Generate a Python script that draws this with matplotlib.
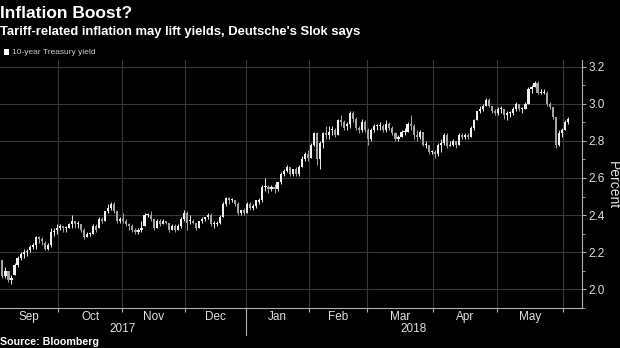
import numpy as np
import pandas as pd
import matplotlib
matplotlib.use('Agg')
import matplotlib.pyplot as plt
import matplotlib.transforms as mtransforms
from matplotlib.patches import Rectangle

# Шрифт: Liberation Sans (уже DejaVu), запасной DejaVu
plt.rcParams['font.family'] = ['Liberation Sans', 'DejaVu Sans']

# Торговые дни по месяцам
month_days = {
    '2017-09': [1, 5, 6, 7, 8, 11, 12, 13, 14, 15, 18, 19, 20, 21, 22, 25, 26, 27, 28, 29],
    '2017-10': [2, 3, 4, 5, 6, 10, 11, 12, 13, 16, 17, 18, 19, 20, 23, 24, 25, 26, 27, 30, 31],
    '2017-11': [1, 2, 3, 6, 7, 8, 9, 10, 13, 14, 15, 16, 17, 20, 21, 22, 24, 27, 28, 29, 30],
    '2017-12': [1, 4, 5, 6, 7, 8, 11, 12, 13, 14, 15, 18, 19, 20, 21, 22, 26, 27, 28, 29],
    '2018-01': [2, 3, 4, 5, 8, 9, 10, 11, 12, 16, 17, 18, 19, 22, 23, 24, 25, 26, 29, 30, 31],
    '2018-02': [1, 2, 5, 6, 7, 8, 9, 12, 13, 14, 15, 16, 20, 21, 22, 23, 26, 27, 28],
    '2018-03': [1, 2, 5, 6, 7, 8, 9, 12, 13, 14, 15, 16, 19, 20, 21, 22, 23, 26, 27, 28, 29, 30],
    '2018-04': [2, 3, 4, 5, 6, 9, 10, 11, 12, 13, 16, 17, 18, 19, 20, 23, 24, 25, 26, 27, 30],
    '2018-05': [1, 2, 3, 4, 7, 8, 9, 10, 11, 14, 15, 16, 17, 18, 21, 22, 23, 24, 25, 29, 30, 31],
    '2018-06': [1, 4],
}

# 10-year Treasury yield, OHLC
open_ = [
    2.12, 2.16, 2.07, 2.10, 2.05, 2.08, 2.13, 2.17, 2.19, 2.20, 2.21, 2.23, 2.24, 2.28, 2.27, 2.25, 2.22, 2.24, 2.31, 2.32,
    2.33, 2.34, 2.33, 2.33, 2.35, 2.37, 2.35, 2.35, 2.32, 2.28, 2.30, 2.30, 2.34, 2.33, 2.38, 2.37, 2.42, 2.44, 2.46, 2.42, 2.37,
    2.38, 2.37, 2.35, 2.34, 2.32, 2.31, 2.32, 2.34, 2.40, 2.40, 2.38, 2.33, 2.37, 2.35, 2.37, 2.36, 2.32, 2.34, 2.32, 2.34, 2.38,
    2.41, 2.37, 2.37, 2.36, 2.33, 2.37, 2.38, 2.39, 2.40, 2.35, 2.35, 2.36, 2.39, 2.46, 2.49, 2.48, 2.48, 2.46, 2.41, 2.43,
    2.41, 2.46, 2.44, 2.45, 2.47, 2.48, 2.55, 2.55, 2.54, 2.55, 2.54, 2.58, 2.62, 2.64, 2.66, 2.62, 2.65, 2.62, 2.66, 2.70, 2.73,
    2.71, 2.78, 2.84, 2.70, 2.79, 2.84, 2.83, 2.86, 2.86, 2.83, 2.91, 2.90, 2.88, 2.89, 2.95, 2.92, 2.87, 2.86, 2.90,
    2.86, 2.81, 2.86, 2.88, 2.88, 2.88, 2.86, 2.89, 2.87, 2.84, 2.81, 2.82, 2.85, 2.85, 2.89, 2.88, 2.83, 2.82, 2.85, 2.78, 2.78, 2.74,
    2.74, 2.73, 2.78, 2.79, 2.83, 2.77, 2.78, 2.80, 2.78, 2.83, 2.82, 2.83, 2.82, 2.87, 2.91, 2.96, 2.97, 2.99, 3.02, 2.99, 2.96,
    2.95, 2.97, 2.97, 2.94, 2.95, 2.95, 2.97, 3.00, 2.97, 2.97, 3.00, 3.08, 3.09, 3.11, 3.06, 3.06, 3.06, 3.00, 2.98, 2.93, 2.78, 2.84,
    2.86, 2.90,
]
high = [
    2.17, 2.16, 2.12, 2.10, 2.08, 2.14, 2.18, 2.20, 2.22, 2.22, 2.24, 2.25, 2.29, 2.29, 2.28, 2.26, 2.25, 2.33, 2.33, 2.35,
    2.35, 2.34, 2.34, 2.36, 2.40, 2.37, 2.37, 2.35, 2.33, 2.31, 2.31, 2.35, 2.35, 2.39, 2.39, 2.42, 2.46, 2.47, 2.47, 2.42, 2.39,
    2.41, 2.38, 2.36, 2.35, 2.33, 2.33, 2.37, 2.41, 2.41, 2.42, 2.38, 2.38, 2.38, 2.38, 2.37, 2.36, 2.35, 2.35, 2.35, 2.39, 2.43,
    2.42, 2.40, 2.38, 2.36, 2.37, 2.39, 2.39, 2.41, 2.41, 2.37, 2.37, 2.40, 2.47, 2.50, 2.50, 2.49, 2.48, 2.47, 2.43, 2.44,
    2.47, 2.47, 2.46, 2.48, 2.49, 2.56, 2.60, 2.56, 2.56, 2.57, 2.58, 2.63, 2.65, 2.67, 2.66, 2.65, 2.66, 2.67, 2.72, 2.74, 2.75,
    2.79, 2.85, 2.85, 2.80, 2.85, 2.88, 2.88, 2.88, 2.87, 2.92, 2.94, 2.91, 2.90, 2.96, 2.96, 2.93, 2.88, 2.92, 2.91,
    2.87, 2.87, 2.89, 2.89, 2.90, 2.89, 2.91, 2.90, 2.88, 2.85, 2.83, 2.86, 2.87, 2.90, 2.94, 2.89, 2.86, 2.86, 2.85, 2.80, 2.78, 2.75,
    2.75, 2.79, 2.81, 2.84, 2.84, 2.80, 2.81, 2.80, 2.84, 2.84, 2.84, 2.84, 2.88, 2.92, 2.96, 2.99, 3.00, 3.03, 3.03, 2.99, 2.97,
    2.98, 2.99, 2.97, 2.96, 2.96, 2.98, 3.01, 3.00, 2.98, 3.01, 3.09, 3.10, 3.12, 3.12, 3.08, 3.08, 3.07, 3.01, 2.98, 2.93, 2.86, 2.87,
    2.91, 2.93,
]
low = [
    2.11, 2.06, 2.06, 2.04, 2.03, 2.08, 2.12, 2.16, 2.17, 2.18, 2.20, 2.22, 2.22, 2.25, 2.24, 2.21, 2.21, 2.23, 2.29, 2.30,
    2.32, 2.31, 2.31, 2.33, 2.33, 2.33, 2.33, 2.31, 2.27, 2.28, 2.29, 2.30, 2.31, 2.33, 2.36, 2.37, 2.41, 2.43, 2.41, 2.36, 2.36,
    2.36, 2.34, 2.32, 2.31, 2.30, 2.30, 2.31, 2.34, 2.39, 2.37, 2.32, 2.33, 2.34, 2.35, 2.35, 2.31, 2.32, 2.31, 2.32, 2.33, 2.37,
    2.32, 2.35, 2.35, 2.32, 2.33, 2.36, 2.37, 2.38, 2.34, 2.33, 2.34, 2.35, 2.39, 2.45, 2.46, 2.47, 2.45, 2.40, 2.40, 2.40,
    2.41, 2.43, 2.43, 2.44, 2.46, 2.47, 2.53, 2.52, 2.53, 2.52, 2.53, 2.57, 2.61, 2.63, 2.61, 2.61, 2.61, 2.61, 2.66, 2.69, 2.69,
    2.71, 2.77, 2.67, 2.65, 2.76, 2.81, 2.81, 2.83, 2.82, 2.83, 2.88, 2.86, 2.86, 2.87, 2.90, 2.86, 2.84, 2.85, 2.85,
    2.78, 2.80, 2.85, 2.86, 2.86, 2.85, 2.85, 2.86, 2.83, 2.80, 2.80, 2.82, 2.83, 2.85, 2.86, 2.81, 2.80, 2.81, 2.77, 2.76, 2.73, 2.73,
    2.71, 2.72, 2.74, 2.78, 2.76, 2.77, 2.77, 2.76, 2.78, 2.81, 2.81, 2.81, 2.82, 2.86, 2.91, 2.95, 2.96, 2.99, 2.98, 2.95, 2.94,
    2.94, 2.95, 2.92, 2.91, 2.93, 2.94, 2.96, 2.96, 2.95, 2.97, 3.00, 3.06, 3.09, 3.05, 3.05, 3.05, 2.99, 2.97, 2.92, 2.76, 2.77, 2.82,
    2.86, 2.89,
]
close = [
    2.16, 2.07, 2.10, 2.05, 2.06, 2.13, 2.17, 2.19, 2.20, 2.20, 2.23, 2.24, 2.28, 2.27, 2.26, 2.22, 2.24, 2.31, 2.31, 2.33,
    2.34, 2.33, 2.33, 2.35, 2.37, 2.35, 2.35, 2.32, 2.28, 2.30, 2.30, 2.34, 2.32, 2.38, 2.37, 2.42, 2.44, 2.46, 2.42, 2.37, 2.38,
    2.37, 2.35, 2.34, 2.32, 2.31, 2.32, 2.33, 2.40, 2.40, 2.38, 2.33, 2.37, 2.35, 2.37, 2.36, 2.32, 2.34, 2.32, 2.34, 2.38, 2.41,
    2.36, 2.37, 2.36, 2.33, 2.37, 2.38, 2.39, 2.40, 2.35, 2.35, 2.35, 2.39, 2.46, 2.49, 2.48, 2.48, 2.46, 2.41, 2.43, 2.41,
    2.46, 2.44, 2.45, 2.48, 2.48, 2.55, 2.55, 2.54, 2.55, 2.54, 2.58, 2.62, 2.64, 2.66, 2.62, 2.65, 2.62, 2.66, 2.70, 2.73, 2.71,
    2.78, 2.84, 2.70, 2.79, 2.84, 2.83, 2.85, 2.86, 2.83, 2.91, 2.90, 2.87, 2.89, 2.95, 2.92, 2.87, 2.86, 2.90, 2.86,
    2.81, 2.86, 2.88, 2.88, 2.88, 2.86, 2.89, 2.87, 2.84, 2.81, 2.82, 2.85, 2.85, 2.89, 2.88, 2.83, 2.82, 2.85, 2.78, 2.78, 2.74, 2.74,
    2.73, 2.78, 2.79, 2.83, 2.77, 2.78, 2.80, 2.78, 2.83, 2.82, 2.83, 2.82, 2.87, 2.91, 2.96, 2.97, 2.99, 3.02, 2.99, 2.96, 2.95,
    2.97, 2.97, 2.94, 2.95, 2.95, 2.97, 3.00, 2.97, 2.97, 3.00, 3.08, 3.09, 3.11, 3.06, 3.06, 3.06, 3.00, 2.98, 2.93, 2.78, 2.84, 2.86,
    2.90, 2.92,
]

month_labels = ['Sep', 'Oct', 'Nov', 'Dec', 'Jan', 'Feb', 'Mar', 'Apr', 'May']
year_labels = ['2017', '2018']

dates = pd.to_datetime([f'{m}-{d:02d}' for m, days in month_days.items() for d in days])
df = pd.DataFrame({'open': open_, 'high': high, 'low': low, 'close': close}, index=dates)
x = np.arange(len(df))

W, H = 620, 348
fig = plt.figure(figsize=(W / 100, H / 100), dpi=100, facecolor='black')
ax = fig.add_axes([0, 1 - 308 / H, 582 / W, (308 - 60) / H], facecolor='black')

xlim = (0.2, 192.7)
ax.set_xlim(*xlim)
ax.set_ylim(1.909, 3.235)

# Границы месяцев (между последним днём месяца и первым днём следующего)
months = df.index.to_period('M')
first_idx = [int(np.where(months == p)[0][0]) for p in months.unique()]
bounds = [i - 0.5 for i in first_idx[1:]]

# Сетка
for b in bounds:
    ax.axvline(b, color='#383838', lw=0.8, zorder=0)
ax.set_yticks(np.arange(2.0, 3.21, 0.2))
ax.set_yticks(np.arange(1.9, 3.25, 0.1), minor=True)
ax.grid(axis='y', which='major', color='#383838', lw=0.8, zorder=0)

# Свечи
up = df['close'] >= df['open']
body_lo = np.minimum(df['open'], df['close'])
body_h = np.maximum(np.abs(df['close'] - df['open']), 0.005)
ax.vlines(x[up], df['low'][up], df['high'][up], color='#e8e8e8', lw=0.7, zorder=2)
ax.vlines(x[~up], df['low'][~up], df['high'][~up], color='#a8a8a8', lw=0.7, zorder=2)
ax.bar(x[up], body_h[up], bottom=body_lo[up], width=0.7, color='#f0f0f0', lw=0, zorder=3)
ax.bar(x[~up], body_h[~up], bottom=body_lo[~up], width=0.7, color='#a4a4a4', lw=0, zorder=3)

# Оси
for s in ['top', 'left']:
    ax.spines[s].set_visible(False)
for s in ['bottom', 'right']:
    ax.spines[s].set_color('#b0b0b0')
    ax.spines[s].set_linewidth(0.8)
ax.yaxis.tick_right()
ax.tick_params(axis='y', which='major', colors='#b0b0b0', labelcolor='#e0e0e0',
               length=3, width=0.8, pad=1.5, labelsize=8.5)
ax.tick_params(axis='y', which='minor', colors='#b0b0b0', length=2, width=0.6)
ax.set_xticks(bounds)
ax.tick_params(axis='x', colors='#b0b0b0', length=3, width=0.8, labelbottom=False)

# Подписи месяцев и лет
trans = mtransforms.blended_transform_factory(ax.transData, ax.transAxes)
edges = [xlim[0]] + bounds
for i, lab in enumerate(month_labels):
    ax.text((edges[i] + edges[i + 1]) / 2, -0.036, lab, transform=trans,
            ha='center', va='center', color='#e0e0e0', fontsize=8.5)
jan_b = bounds[3]
ax.text((xlim[0] + jan_b) / 2, -0.085, year_labels[0], transform=trans,
        ha='center', va='center', color='#e0e0e0', fontsize=8.5)
ax.text((jan_b + xlim[1]) / 2, -0.085, year_labels[1], transform=trans,
        ha='center', va='center', color='#e0e0e0', fontsize=8.5)
ax.plot([jan_b, jan_b], [0, -0.109], transform=trans, color='#b0b0b0',
        lw=0.8, clip_on=False)

# Заголовки и подписи
fig.text(613 / W, 1 - 185 / H, 'Percent', rotation=-90, ha='center', va='center',
         color='#e0e0e0', fontsize=10)
fig.text(0, 1 - 13 / H, 'Inflation Boost?', color='white', fontsize=12.5,
         weight='bold', va='center', ha='left')
fig.text(0, 1 - 32 / H, "Tariff-related inflation may lift yields, Deutsche's Slok says",
         color='white', fontsize=9.4, weight='bold', va='center', ha='left')
fig.add_artist(Rectangle((4 / W, 1 - 55 / H), 5 / W, 6 / H, transform=fig.transFigure,
                         facecolor='white', edgecolor='none'))
fig.text(12 / W, 1 - 52 / H, '10-year Treasury yield', color='#cccccc', fontsize=6,
         va='center', ha='left')
fig.text(0, 1 - 342 / H, 'Source: Bloomberg', color='white', fontsize=7.7,
         weight='bold', va='center', ha='left')

fig.savefig('out.png', dpi=100, facecolor='black')
